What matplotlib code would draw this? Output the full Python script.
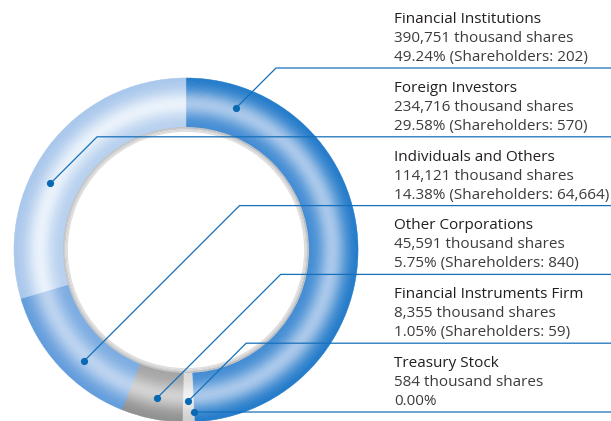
import numpy as np
import matplotlib
matplotlib.use("Agg")
import matplotlib.pyplot as plt
from matplotlib.colors import to_rgb

plt.rcParams['font.family'] = ['Open Sans', 'DejaVu Sans']

# shareholder categories, in the order they are listed on the right
categories = [
    "Financial Institutions",
    "Foreign Investors",
    "Individuals and Others",
    "Other Corporations",
    "Financial Instruments Firm",
    "Treasury Stock",
]
shares_k = [390751, 234716, 114121, 45591, 8355, 584]  # thousand shares
percent_labels = ["49.24%", "29.58%", "14.38%", "5.75%", "1.05%", "0.00%"]
holders = [202, 570, 64664, 840, 59, None]

# clockwise ring order starting at 12 o'clock
ring_order = [0, 5, 4, 3, 2, 1]

# (outer edge, light band, inner edge) shading per category
shades = [
    ("#1f79c9", "#a9c8ea", "#3f8ad3"),
    ("#a7c6eb", "#eaf2fb", "#b5cfee"),
    ("#5f9bdb", "#bcd3ef", "#79abe2"),
    ("#8e8e8e", "#d2d2d2", "#a3a3a3"),
    ("#cfcfcf", "#f2f2f2", "#d9d9d9"),
    ("#cfcfcf", "#f2f2f2", "#d9d9d9"),
]
# where along each slice the callout dot sits (0 = start, 1 = end)
dot_pos = [0.11, 0.40, 0.40, 0.48, 0.45, 0.5]

W, H = 611, 421
fig = plt.figure(figsize=(W / 100, H / 100), dpi=100)
ax = fig.add_axes([0, 0, 1, 1])

cx, cy = 186, H - 250
r_out, r_in = 172, 122

sizes = [shares_k[i] for i in ring_order]
n_layers = 60
dr = (r_out - r_in) / n_layers
for k in range(n_layers):
    t = (k + 0.5) / n_layers  # 0 at inner edge, 1 at outer edge
    glow = np.exp(-((t - 0.5) / 0.27) ** 2)
    cols = []
    for i in ring_order:
        outer, light, inner = (np.array(to_rgb(c)) for c in shades[i])
        edge = inner * (1 - t) + outer * t
        cols.append(tuple(edge * (1 - glow) + light * glow))
    wedges, _ = ax.pie(sizes, radius=r_in + (k + 1) * dr, center=(cx, cy),
                       colors=cols, startangle=90, counterclock=False,
                       frame=True, wedgeprops=dict(width=dr * 1.4, linewidth=0.4))
    for w in wedges:
        w.set_edgecolor(w.get_facecolor())

# grey lip on the inside of the ring
for k, c in enumerate(["#c4c4c4", "#cdcdcd", "#d6d6d6", "#dedede"]):
    ax.pie([1], radius=r_in + 1 - k * 1.2, center=(cx, cy), colors=[c],
           frame=True, wedgeprops=dict(width=1.3, linewidth=0))

# slice angles, clockwise from the top
total = sum(shares_k)
start = {}
acc = 0.0
for i in ring_order:
    start[i] = acc
    acc += shares_k[i] / total * 360

line_c = "#1570b9"
text_x = 394
row_gap = 68.8
first_line = 68
fs = 11

for i, name in enumerate(categories):
    ang = start[i] + dot_pos[i] * shares_k[i] / total * 360
    rad = 151 if i != 5 else 162
    dx = cx + rad * np.sin(np.radians(ang))
    dy = cy + rad * np.cos(np.radians(ang))
    ly = H - (first_line + i * row_gap)
    kx = dx + (ly - dy)
    ax.plot([dx, kx, W], [dy, ly, ly], color=line_c, lw=0.9,
            solid_joinstyle="miter", zorder=5)
    ax.plot(dx, dy, "o", color="#0a69b3", ms=5.2, mec="none", zorder=6)

    tail = f"{percent_labels[i]}"
    if holders[i] is not None:
        tail += f" (Shareholders: {holders[i]:,})"
    ax.text(text_x, ly + 48.5, name, fontsize=fs, color="#231f20",
            va="center", ha="left", fontweight="medium")
    ax.text(text_x, ly + 29.5, f"{shares_k[i]:,} thousand shares",
            fontsize=fs, color="#3c3c3c", va="center", ha="left")
    ax.text(text_x, ly + 10.5, tail, fontsize=fs, color="#3c3c3c",
            va="center", ha="left")

ax.set_xlim(0, W)
ax.set_ylim(0, H)
ax.set_aspect("equal")
ax.axis("off")

fig.savefig("out.png", dpi=100)
